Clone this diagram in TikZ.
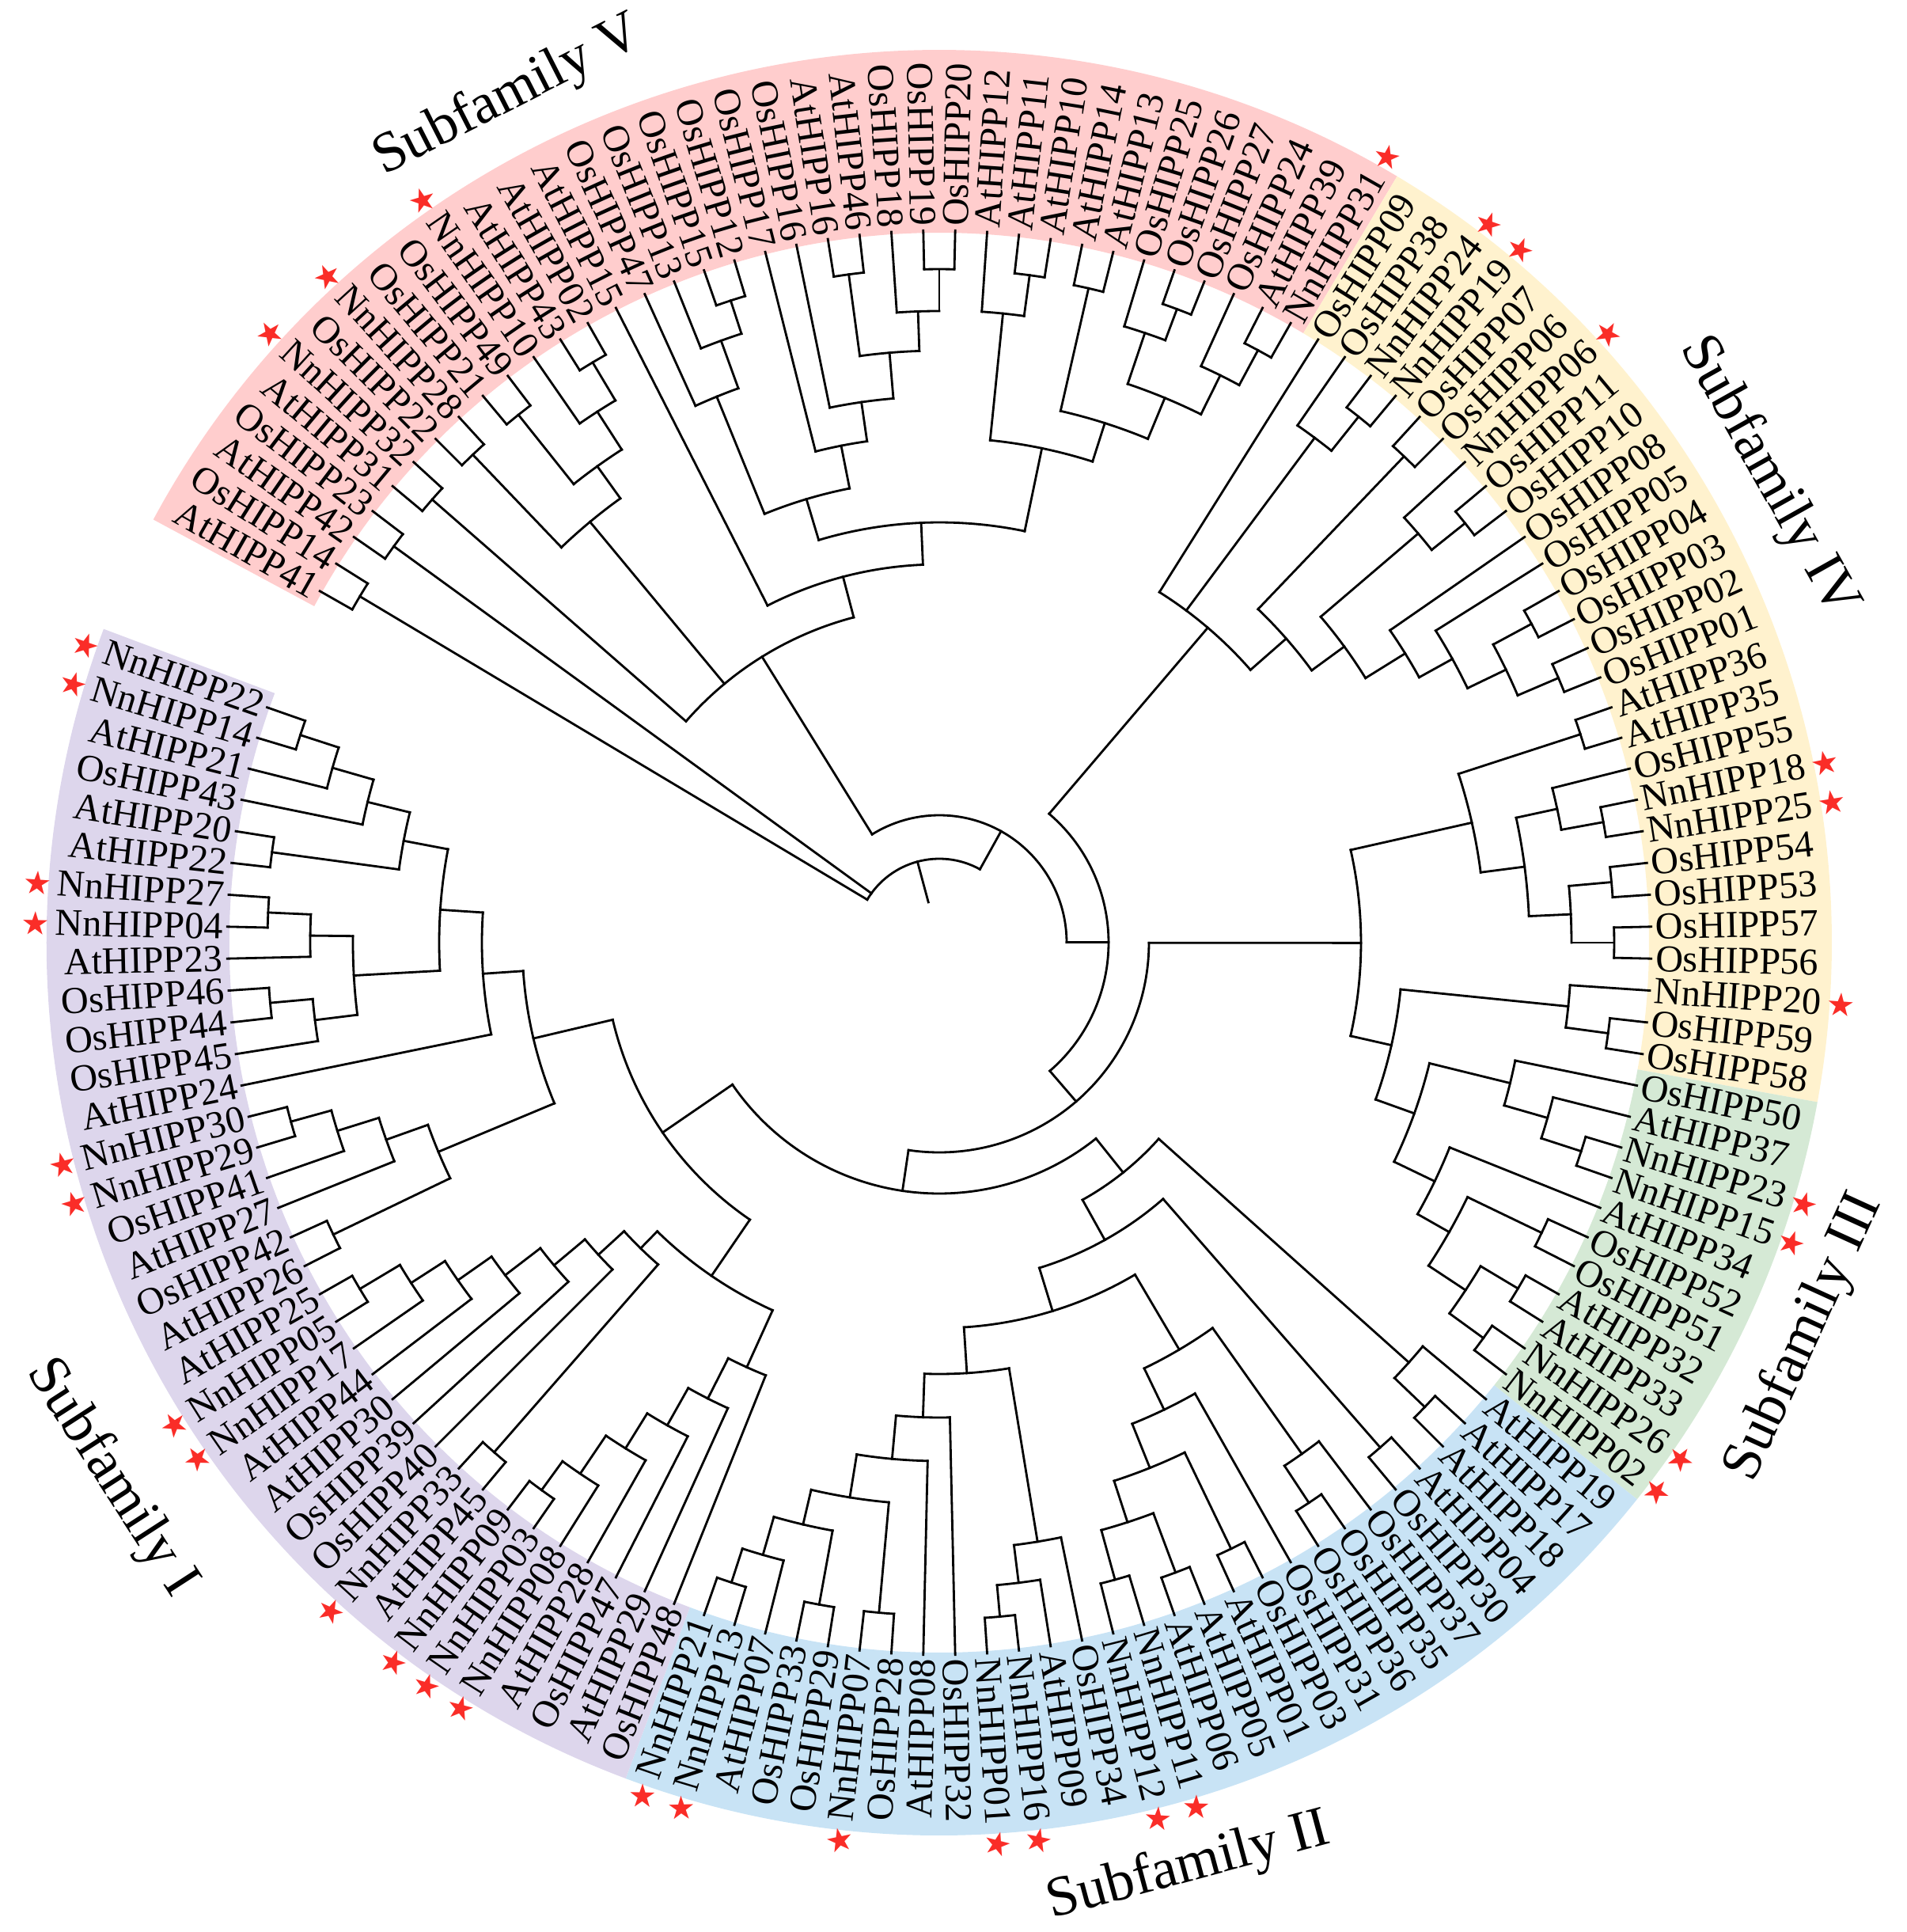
\documentclass[tikz,border=0pt]{standalone}
\usepackage{fontspec}
\setmainfont{Liberation Serif}
\newfontfamily\symfont{DejaVu Sans}
\usetikzlibrary{positioning}

\definecolor{bandV}{RGB}{255,205,205}
\definecolor{bandIV}{RGB}{255,242,206}
\definecolor{bandIII}{RGB}{213,233,213}
\definecolor{bandII}{RGB}{200,227,245}
\definecolor{bandI}{RGB}{221,214,236}
\definecolor{starred}{RGB}{250,45,40}

% angle and radius of every tree node
\newcommand\nang[1]{\csname na@#1\endcsname}
\newcommand\nrad[1]{\csname nr@#1\endcsname}
\newcommand\starmark{{\symfont\fontsize{11.5}{11.5}\selectfont\color{starred}\char"2605}}

% \clade{name}{radius}{children}: arc at radius joining the children
\newcommand\clade[3]{%
  \gdef\cmin{1000}\gdef\cmax{-1000}%
  \foreach \ch in {#3}{%
    \edef\cha{\nang{\ch}}\edef\chr{\nrad{\ch}}%
    \draw[branch] (\cha:#2) -- (\cha:\chr);
    \pgfmathparse{min(\cmin,\cha)}\xdef\cmin{\pgfmathresult}%
    \pgfmathparse{max(\cmax,\cha)}\xdef\cmax{\pgfmathresult}%
  }%
  \draw[branch] (\cmin:#2) arc[start angle=\cmin, end angle=\cmax, radius=#2];
  \pgfmathparse{(\cmin+\cmax)/2}%
  \expandafter\xdef\csname na@#1\endcsname{\pgfmathresult}%
  \expandafter\xdef\csname nr@#1\endcsname{#2}%
}

% coloured ring segment between two angles
\newcommand\band[3]{%
  \fill[#1] (#2:8.97) arc[start angle=#2, end angle=#3, radius=8.97]
    -- (#3:11.28) arc[start angle=#3, end angle=#2, radius=11.28] -- cycle;}

\begin{document}
\begin{tikzpicture}[
  branch/.style={line width=0.8pt, line cap=rect},
  leaf/.style={inner sep=0pt, text height=9pt, text depth=0pt, font=\fontsize{13.7}{14}\selectfont},
  family/.style={inner sep=0pt, font=\fontsize{20.5}{22}\selectfont}
]
\useasboundingbox (-11.87,-12.50) rectangle (12.22,11.91);

% subfamily bands
\band{bandV}{59.14}{151.71}
\band{bandIV}{-10.29}{59.14}
\band{bandIII}{-38.57}{-10.29}
\band{bandII}{-110.57}{-38.57}
\band{bandI}{-200.57}{-110.57}

% leaves and their labels
\foreach \lab/\st [count=\k] in {
  AtHIPP41/0, OsHIPP14/0, AtHIPP42/0, OsHIPP23/0, AtHIPP31/0, NnHIPP32/1, OsHIPP22/0, NnHIPP28/1,
  OsHIPP21/0, OsHIPP49/0, NnHIPP10/1, AtHIPP43/0, AtHIPP02/0, AtHIPP15/0, OsHIPP47/0, OsHIPP13/0,
  OsHIPP15/0, OsHIPP12/0, OsHIPP17/0, OsHIPP16/0, AtHIPP16/0, AtHIPP46/0, OsHIPP18/0, OsHIPP19/0,
  OsHIPP20/0, AtHIPP12/0, AtHIPP11/0, AtHIPP10/0, AtHIPP14/0, AtHIPP13/0, OsHIPP25/0, OsHIPP26/0,
  OsHIPP27/0, OsHIPP24/0, AtHIPP39/0, NnHIPP31/1,
  OsHIPP09/0, OsHIPP38/0, NnHIPP24/1, NnHIPP19/1, OsHIPP07/0, OsHIPP06/0, NnHIPP06/1, OsHIPP11/0,
  OsHIPP10/0, OsHIPP08/0, OsHIPP05/0, OsHIPP04/0, OsHIPP03/0, OsHIPP02/0, OsHIPP01/0, AtHIPP36/0,
  AtHIPP35/0, OsHIPP55/0, NnHIPP18/1, NnHIPP25/1, OsHIPP54/0, OsHIPP53/0, OsHIPP57/0, OsHIPP56/0,
  NnHIPP20/1, OsHIPP59/0, OsHIPP58/0,
  OsHIPP50/0, AtHIPP37/0, NnHIPP23/1, NnHIPP15/1, AtHIPP34/0, OsHIPP52/0, OsHIPP51/0, AtHIPP32/0,
  AtHIPP33/0, NnHIPP26/1, NnHIPP02/1,
  AtHIPP19/0, AtHIPP17/0, AtHIPP18/0, AtHIPP04/0, OsHIPP30/0, OsHIPP37/0, OsHIPP35/0, OsHIPP36/0,
  OsHIPP31/0, OsHIPP03/0, AtHIPP01/0, AtHIPP05/0, AtHIPP06/0, NnHIPP11/1, NnHIPP12/1, OsHIPP34/0,
  AtHIPP09/0, NnHIPP16/1, NnHIPP01/1, OsHIPP32/0, AtHIPP08/0, OsHIPP28/0, NnHIPP07/1, OsHIPP29/0,
  OsHIPP33/0, AtHIPP07/0, NnHIPP13/1, NnHIPP21/1,
  OsHIPP48/0, AtHIPP29/0, OsHIPP47/0, AtHIPP28/0, NnHIPP08/1, NnHIPP03/1, NnHIPP09/1, AtHIPP45/0,
  NnHIPP33/1, OsHIPP40/0, OsHIPP39/0, AtHIPP30/0, AtHIPP44/0, NnHIPP17/1, NnHIPP05/1, AtHIPP25/0,
  AtHIPP26/0, OsHIPP42/0, AtHIPP27/0, OsHIPP41/0, NnHIPP29/1, NnHIPP30/1, AtHIPP24/0, OsHIPP45/0,
  OsHIPP44/0, OsHIPP46/0, AtHIPP23/0, NnHIPP04/1, NnHIPP27/1, AtHIPP22/0, AtHIPP20/0, OsHIPP43/0,
  AtHIPP21/0, NnHIPP14/1, NnHIPP22/1}{
  \pgfmathsetmacro\ang{90+(24.5-\k)*2.5714286}
  \pgfmathsetmacro\angl{\ang+180}
  \expandafter\xdef\csname na@L\k\endcsname{\ang}
  \expandafter\xdef\csname nr@L\k\endcsname{9.00}
  \pgfmathtruncatemacro\rside{cos(\ang)>0}
  \ifnum\rside=1
    \node[leaf, anchor=west, rotate=\ang] (lab\k) at (\ang:9.05) {\lab\ifnum\st=1\hspace{2pt}\starmark\fi};
  \else
    \node[leaf, anchor=east, rotate=\angl] (lab\k) at (\ang:9.05) {\ifnum\st=1\starmark\hspace{2pt}\fi\lab};
  \fi
}

% subfamily V
\clade{c1x2}{8.53}{L1,L2}
\clade{c3x4}{8.52}{L3,L4}
\clade{c5x6}{8.51}{L5,L6}
\clade{c7x8}{8.53}{L7,L8}
\clade{c9x10}{8.53}{L9,L10}
\clade{c12x13}{8.54}{L12,L13}
\clade{c11x13}{7.98}{L11,c12x13}
\clade{c9x13}{7.41}{c9x10,c11x13}
\clade{c7x13}{6.91}{c7x8,c9x13}
\clade{c17x18}{8.53}{L17,L18}
\clade{c16x18}{8.09}{L16,c17x18}
\clade{c15x18}{7.45}{L15,c16x18}
\clade{c21x22}{8.52}{L21,L22}
\clade{c24x25}{8.51}{L24,L25}
\clade{c23x25}{7.98}{L23,c24x25}
\clade{c21x25}{7.48}{c21x22,c23x25}
\clade{c20x25}{6.90}{L20,c21x25}
\clade{c19x25}{6.40}{L19,c20x25}
\clade{c15x25}{5.85}{c15x18,c19x25}
\clade{c27x28}{8.51}{L27,L28}
\clade{c26x28}{7.99}{L26,c27x28}
\clade{c29x30}{8.48}{L29,L30}
\clade{c32x33}{8.55}{L32,L33}
\clade{c31x33}{8.13}{L31,c32x33}
\clade{c35x36}{8.50}{L35,L36}
\clade{c34x36}{8.00}{L34,c35x36}
\clade{c31x36}{7.45}{c31x33,c34x36}
\clade{c29x36}{6.89}{c29x30,c31x36}
\clade{c26x36}{6.38}{c26x28,c29x36}
\clade{c15x36}{5.31}{c15x25,c26x36}
\clade{c14x36}{4.78}{L14,c15x36}
\clade{c5x36}{4.25}{c5x6,c7x13,c14x36}

% subfamily IV, upper part
\clade{c39x40}{8.50}{L39,L40}
\clade{c38x40}{7.95}{L38,c39x40}
\clade{c41x42}{8.50}{L41,L42}
\clade{c44x45}{8.50}{L44,L45}
\clade{c43x45}{7.96}{L43,c44x45}
\clade{c48x49}{8.50}{L48,L49}
\clade{c50x51}{8.51}{L50,L51}
\clade{c48x51}{7.95}{c48x49,c50x51}
\clade{c47x51}{7.41}{L47,c48x51}
\clade{c46x51}{6.93}{L46,c47x51}
\clade{c43x51}{6.34}{c43x45,c46x51}
\clade{c41x51}{5.83}{c41x42,c43x51}
\clade{c37x51}{5.23}{L37,c38x40,c41x51}

% subfamily IV, lower part, and subfamily III
\clade{c52x53}{8.52}{L52,L53}
\clade{c55x56}{8.53}{L55,L56}
\clade{c54x56}{7.99}{L54,c55x56}
\clade{c57x58}{8.53}{L57,L58}
\clade{c59x60}{8.53}{L59,L60}
\clade{c57x60}{7.99}{c57x58,c59x60}
\clade{c54x60}{7.46}{c54x56,c57x60}
\clade{c52x60}{6.90}{c52x53,c54x60}
\clade{c62x63}{8.53}{L62,L63}
\clade{c61x63}{7.99}{L61,c62x63}
\clade{c66x67}{8.53}{L66,L67}
\clade{c65x67}{8.00}{L65,c66x67}
\clade{c64x67}{7.43}{L64,c65x67}
\clade{c69x70}{8.45}{L69,L70}
\clade{c71x72}{8.52}{L71,L72}
\clade{c73x74}{8.50}{L73,L74}
\clade{c71x74}{7.97}{c71x72,c73x74}
\clade{c69x74}{7.41}{c69x70,c71x74}
\clade{c68x74}{6.95}{L68,c69x74}
\clade{c64x74}{6.38}{c64x67,c68x74}
\clade{c61x74}{5.86}{c61x63,c64x74}
\clade{c52x74}{5.33}{c52x60,c61x74}

% subfamily II
\clade{c76x77}{8.49}{L76,L77}
\clade{c75x77}{7.96}{L75,c76x77}
\clade{c78x79}{8.47}{L78,L79}
\clade{c81x82}{8.48}{L81,L82}
\clade{c80x82}{7.92}{L80,c81x82}
\clade{c84x85}{8.50}{L84,L85}
\clade{c86x87}{8.50}{L86,L87}
\clade{c88x89}{8.35}{L88,L89}
\clade{c86x89}{7.70}{c88x89,c86x87}
\clade{c84x89}{7.15}{c86x89,c84x85}
\clade{c83x89}{6.55}{L83,c84x89}
\clade{c80x89}{5.97}{c80x82,c83x89}
\clade{c92x93}{8.55}{L92,L93}
\clade{c91x93}{8.15}{L91,c92x93}
\clade{c90x93}{7.67}{L90,c91x93}
\clade{c96x97}{8.50}{L96,L97}
\clade{c98x99}{8.50}{L98,L99}
\clade{c101x102}{8.50}{L101,L102}
\clade{c100x102}{8.05}{L100,c101x102}
\clade{c98x102}{7.55}{c98x99,c100x102}
\clade{c96x102}{7.10}{c96x97,c98x102}
\clade{c95x102}{6.55}{L95,c96x102}
\clade{c94x102}{6.00}{L94,c95x102}
\clade{c90x102}{5.45}{c90x93,c94x102}
\clade{c80x102}{4.87}{c80x89,c90x102}
\clade{c78x102}{4.30}{c78x79,c80x102}
\clade{c75x102}{3.72}{c75x77,c78x102}

% subfamily I
\clade{c108x109}{8.55}{L108,L109}
\clade{c107x109}{8.10}{L107,c108x109}
\clade{c106x109}{7.52}{L106,c107x109}
\clade{c105x109}{7.00}{L105,c106x109}
\clade{c104x109}{6.46}{L104,c105x109}
\clade{c103x109}{5.89}{L103,c104x109}
\clade{c110x111}{8.55}{L110,L111}
\clade{c117x118}{8.53}{L117,L118}
\clade{c116x118}{7.94}{L116,c117x118}
\clade{c115x118}{7.43}{L115,c116x118}
\clade{c114x118}{6.91}{L114,c115x118}
\clade{c113x118}{6.35}{L113,c114x118}
\clade{c112x118}{5.84}{L112,c113x118}
\clade{c110x118}{5.40}{c110x111,c112x118}
\clade{c103x118}{5.10}{c103x109,c110x118}
\clade{c119x120}{8.50}{L119,L120}
\clade{c123x124}{8.50}{L123,L124}
\clade{c122x124}{7.97}{L122,c123x124}
\clade{c121x124}{7.42}{L121,c122x124}
\clade{c119x124}{6.86}{c121x124,c119x120}
\clade{c127x128}{8.49}{L127,L128}
\clade{c126x128}{7.95}{L126,c127x128}
\clade{c130x131}{8.49}{L130,L131}
\clade{c129x131}{7.95}{L129,c130x131}
\clade{c126x131}{7.41}{c126x128,c129x131}
\clade{c132x133}{8.51}{L132,L133}
\clade{c136x137}{8.49}{L136,L137}
\clade{c135x137}{7.98}{L135,c136x137}
\clade{c134x137}{7.44}{L134,c135x137}
\clade{c132x137}{6.89}{c132x133,c134x137}
\clade{c126x137}{6.32}{c126x131,c132x137}
\clade{c125x137}{5.78}{L125,c126x137}
\clade{c119x137}{5.27}{c119x124,c125x137}
\clade{c103x137}{4.24}{c103x118,c119x137}

% backbone
\clade{c75x137}{3.17}{c75x102,c103x137}
\clade{c52x137}{2.65}{c52x74,c75x137}
\clade{c37x137}{2.14}{c37x51,c52x137}
\clade{c5x137}{1.61}{c5x36,c37x137}
\clade{root}{1.06}{c5x137,c3x4,c1x2}
\draw[branch] (\nang{root}:0.53) -- (\nang{root}:1.06);

% subfamily names
\node[family, rotate=27] (famV) at (117:12.0) {Subfamily V};
\node[family, rotate=-60.7] (famIV) at (29.3:12.02) {Subfamily IV};
\node[family, rotate=65.5] (famIII) at (-24.5:12.02) {Subfamily III};
\node[family, rotate=15.1] (famII) at (-74.9:12.1) {Subfamily II};
\node[family, rotate=-57.1] (famI) at (-147.1:12.46) {Subfamily I};
\end{tikzpicture}
\end{document}
